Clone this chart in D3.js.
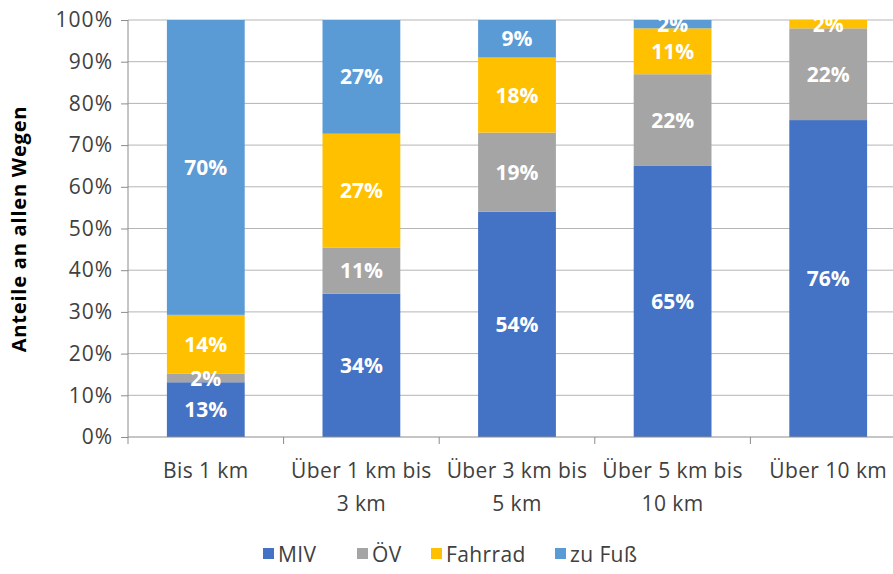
<!DOCTYPE html>
<html>
<head>
<meta charset="utf-8">
<script src="https://cdnjs.cloudflare.com/ajax/libs/d3/7.8.5/d3.min.js"></script>
<style>
body { margin: 0; background: #fff; font-family: "Open Sans", sans-serif; }
</style>
</head>
<body>
<svg id="canvas" width="893" height="574"></svg>
<script>
// categories and series (Anteile in %)
var categories = [["Bis 1 km"], ["Über 1 km bis", "3 km"], ["Über 3 km bis", "5 km"], ["Über 5 km bis", "10 km"], ["Über 10 km"]];
var seriesNames = ["MIV", "ÖV", "Fahrrad", "zu Fuß"];
var miv = [13, 34, 54, 65, 76];
var oev = [2, 11, 19, 22, 22];
var fahrrad = [14, 27, 18, 11, 2];
var fuss = [70, 27, 9, 2, 0];
var yTicks = [0, 10, 20, 30, 40, 50, 60, 70, 80, 90, 100];
var colors = ["#4472C4", "#A5A5A5", "#FFC000", "#5B9BD5"];

var svg = d3.select("#canvas");
var series = [miv, oev, fahrrad, fuss];

var x = d3.scaleBand().domain(d3.range(categories.length)).range([128, 906]).paddingInner(0.5).paddingOuter(0.25);
var y = d3.scaleLinear().domain([0, 100]).range([437, 20]);

// gridlines
svg.append("g").selectAll("line").data(yTicks.slice(1)).enter().append("line")
    .attr("x1", 128).attr("x2", 893)
    .attr("y1", d => y(d)).attr("y2", d => y(d))
    .attr("stroke", "#b5b5b5").attr("stroke-width", 1);

// stacked, normalized to 100%
var rows = categories.map(function(c, i) {
    var vals = series.map(s => s[i]);
    var total = d3.sum(vals);
    var acc = 0;
    return vals.map(function(v, k) {
        var y0 = acc; acc += v / total * 100;
        return {i: i, k: k, v: v, y0: y0, y1: acc};
    });
});

var bars = svg.append("g");
rows.forEach(function(r) {
    bars.selectAll(null).data(r.filter(d => d.v > 0)).enter().append("rect")
        .attr("x", d => x(d.i))
        .attr("width", x.bandwidth())
        .attr("y", d => y(d.y1))
        .attr("height", d => y(d.y0) - y(d.y1))
        .attr("fill", d => colors[d.k]);
});

// value labels
rows.forEach(function(r) {
    bars.selectAll(null).data(r.filter(d => d.v > 0)).enter().append("text")
        .attr("x", d => x(d.i) + x.bandwidth() / 2)
        .attr("y", d => y((d.y0 + d.y1) / 2) + 7.5)
        .attr("text-anchor", "middle")
        .attr("fill", "#fff")
        .style("font-size", "21px").style("font-weight", "bold")
        .text(d => d.v + "%");
});

// y axis
var yAxis = svg.append("g").attr("transform", "translate(128,0)")
    .call(d3.axisLeft(y).tickValues(yTicks).tickSize(7).tickFormat(d => d + "%"));
yAxis.select(".domain").attr("stroke", "#8c8c8c").attr("d", "M0,20V437");
yAxis.selectAll(".tick line").attr("stroke", "#8c8c8c");
yAxis.selectAll(".tick text").attr("x", -15).attr("fill", "#404040")
    .style("font-size", "21px").style("letter-spacing", "1px")
    .style("font-family", "'Open Sans', sans-serif");

// x axis
var xAxis = svg.append("g").attr("transform", "translate(0,437)");
xAxis.append("line").attr("x1", 128).attr("x2", 893).attr("stroke", "#8c8c8c");
xAxis.selectAll("line.t").data(d3.range(categories.length)).enter().append("line")
    .attr("x1", d => x(d) - x.step() * x.paddingInner() / 2)
    .attr("x2", d => x(d) - x.step() * x.paddingInner() / 2)
    .attr("y1", 0).attr("y2", 7).attr("stroke", "#8c8c8c");
xAxis.selectAll("text").data(categories).enter().append("text")
    .attr("x", (d, i) => x(i) + x.bandwidth() / 2)
    .attr("text-anchor", "middle").attr("fill", "#404040")
    .style("font-size", "21px").style("letter-spacing", "0.4px")
    .each(function(d) {
        var t = d3.select(this);
        d.forEach(function(line, j) {
            t.append("tspan").attr("x", t.attr("x")).attr("y", 41 + j * 33).text(line);
        });
    });

// y title
svg.append("text")
    .attr("transform", "translate(26,229) rotate(-90)")
    .attr("text-anchor", "middle").attr("fill", "#000")
    .style("font-size", "20px").style("font-weight", "bold").style("letter-spacing", "0.8px")
    .text("Anteile an allen Wegen");

// legend
var legendX = [263, 357, 431, 555];
var lg = svg.append("g").selectAll("g").data(seriesNames).enter().append("g")
    .attr("transform", (d, i) => "translate(" + legendX[i] + ",547)");
lg.append("rect").attr("width", 11).attr("height", 11).attr("y", 1).attr("fill", (d, i) => colors[i]);
lg.append("text").attr("x", 15).attr("y", 15).attr("fill", "#404040")
    .style("font-size", "21px").style("letter-spacing", "0.4px").text(d => d);
</script>
</body>
</html>
